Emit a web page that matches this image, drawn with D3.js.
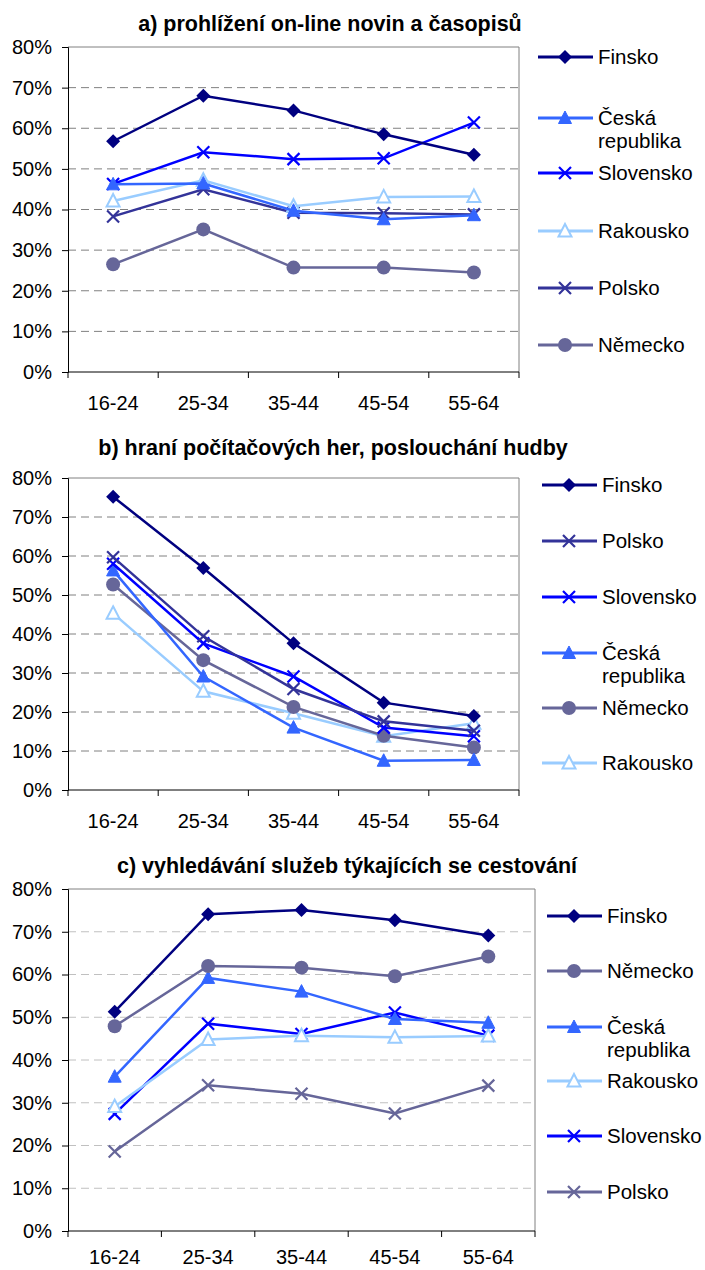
<!DOCTYPE html>
<html lang="cs">
<head>
<meta charset="UTF-8" />
<title>Aktivity na internetu podle věku</title>
<script src="https://cdn.jsdelivr.net/npm/d3@7/dist/d3.min.js"></script>
<style>
  body { margin: 0; background: #fff; }
  svg text { font-family: "Liberation Sans", Arial, sans-serif; fill: #000; }
  .title { font-weight: bold; font-size: 21.5px; }
  .tick text { font-size: 20px; }
  .legend text { font-size: 20.5px; }
  .series { fill: none; stroke-width: 2.5px; }
</style>
</head>
<body>
<script>
// age groups on the x axis, y ticks in percent
var ageGroups = ["16-24", "25-34", "35-44", "45-54", "55-64"];
var yTicks = [0, 10, 20, 30, 40, 50, 60, 70, 80];

var titleA = "a) prohlížení on-line novin a časopisů";
var titleB = "b) hraní počítačových her, poslouchání hudby";
var titleC = "c) vyhledávání služeb týkajících se cestování";

// a) values in %
var finskoA    = [56.8, 68.0, 64.4, 58.5, 53.5];
var ceskaA     = [46.2, 46.4, 39.7, 37.6, 38.6];
var slovenskoA = [46.3, 54.1, 52.4, 52.6, 61.4];
var rakouskoA  = [42.1, 47.2, 40.8, 43.1, 43.2];
var polskoA    = [38.3, 45.0, 39.2, 39.1, 38.8];
var nemeckoA   = [26.5, 35.1, 25.7, 25.7, 24.5];

// b)
var finskoB    = [75.2, 56.9, 37.6, 22.4, 19.0];
var polskoB    = [59.7, 39.4, 25.9, 17.6, 15.2];
var slovenskoB = [58.0, 37.6, 29.1, 16.0, 13.8];
var ceskaB     = [56.3, 29.1, 16.0, 7.5, 7.7];
var nemeckoB   = [52.7, 33.3, 21.3, 13.9, 10.9];
var rakouskoB  = [45.3, 25.3, 19.7, 13.8, 17.1];

// c)
var finskoC    = [51.3, 74.1, 75.1, 72.7, 69.1];
var nemeckoC   = [47.9, 62.0, 61.6, 59.6, 64.2];
var ceskaC     = [36.1, 59.2, 56.0, 49.6, 48.7];
var rakouskoC  = [29.1, 44.8, 45.7, 45.3, 45.6];
var slovenskoC = [27.4, 48.5, 46.1, 51.1, 45.7];
var polskoC    = [18.6, 34.1, 32.1, 27.5, 34.0];

// legend order of each panel
var legendA = ["Finsko", "Česká republika", "Slovensko", "Rakousko", "Polsko", "Německo"];
var legendB = ["Finsko", "Polsko", "Slovensko", "Česká republika", "Německo", "Rakousko"];
var legendC = ["Finsko", "Německo", "Česká republika", "Rakousko", "Slovensko", "Polsko"];

var styleOf = {
  "Finsko":          {color: "#000080", marker: "diamond"},
  "Česká republika": {color: "#3366ff", marker: "triangle"},
  "Slovensko":       {color: "#0000ff", marker: "cross"},
  "Rakousko":        {color: "#99ccff", marker: "triangleOpen"},
  "Polsko":          {color: "#333399", marker: "cross"},
  "Německo":         {color: "#666699", marker: "circle"}
};

var panels = [
  {title: titleA, titleX: 330, titleY: 31, left: 68, right: 519, top: 47, bottom: 372, labelY: 410,
   grid: "#808080", legend: legendA, legendX: 538, legendRows: [57, 118, 173, 231, 288, 345],
   values: {"Finsko": finskoA, "Česká republika": ceskaA, "Slovensko": slovenskoA,
            "Rakousko": rakouskoA, "Polsko": polskoA, "Německo": nemeckoA}},
  {title: titleB, titleX: 333, titleY: 455, left: 68, right: 519, top: 478, bottom: 790, labelY: 828,
   grid: "#808080", legend: legendB, legendX: 542, legendRows: [485, 541, 597, 653, 708, 763],
   values: {"Finsko": finskoB, "Polsko": polskoB, "Slovensko": slovenskoB,
            "Česká republika": ceskaB, "Německo": nemeckoB, "Rakousko": rakouskoB}},
  {title: titleC, titleX: 347, titleY: 873, left: 68, right: 535, top: 889, bottom: 1231, labelY: 1264,
   grid: "#c0c0c0", legend: legendC, legendX: 547, legendRows: [916, 971, 1027, 1081, 1136, 1192],
   polsko: "#666699",
   values: {"Finsko": finskoC, "Německo": nemeckoC, "Česká republika": ceskaC,
            "Rakousko": rakouskoC, "Slovensko": slovenskoC, "Polsko": polskoC}}
];

var svg = d3.select("body").append("svg")
  .attr("width", 705)
  .attr("height", 1270);

function drawMarker(g, type, color, x, y) {
  if (type == "diamond") {
    g.append("path")
     .attr("d", "M" + x + "," + (y - 7) + "L" + (x + 7) + "," + y + "L" + x + "," + (y + 7) + "L" + (x - 7) + "," + y + "Z")
     .attr("fill", color);
  } else if (type == "triangle" || type == "triangleOpen") {
    g.append("path")
     .attr("d", "M" + x + "," + (y - 7) + "L" + (x + 6.5) + "," + (y + 5.5) + "L" + (x - 6.5) + "," + (y + 5.5) + "Z")
     .attr("fill", type == "triangle" ? color : "#fff")
     .attr("stroke", color)
     .attr("stroke-width", type == "triangle" ? 1 : 2);
  } else if (type == "circle") {
    g.append("circle")
     .attr("cx", x).attr("cy", y).attr("r", 7)
     .attr("fill", color);
  } else {
    g.append("path")
     .attr("d", "M" + (x - 6) + "," + (y - 6) + "L" + (x + 6) + "," + (y + 6) + "M" + (x + 6) + "," + (y - 6) + "L" + (x - 6) + "," + (y + 6))
     .attr("stroke", color)
     .attr("stroke-width", 2.2)
     .attr("fill", "none");
  }
}

panels.forEach(function(p) {
  var g = svg.append("g");

  var xScale = d3.scaleBand()
                 .domain(ageGroups)
                 .range([p.left, p.right]);
  var yScale = d3.scaleLinear()
                 .domain([0, 80])
                 .range([p.bottom, p.top]);

  function colorOf(name) {
    if (name == "Polsko" && p.polsko) return p.polsko;
    return styleOf[name].color;
  }

  // title
  g.append("text")
   .attr("class", "title")
   .attr("x", p.titleX)
   .attr("y", p.titleY)
   .attr("text-anchor", "middle")
   .text(p.title);

  // dashed grid
  g.selectAll(".grid")
   .data(yTicks.filter(function(t) { return t > 0 && t < 80; }))
   .enter().append("line")
   .attr("x1", p.left).attr("x2", p.right)
   .attr("y1", function(d) { return yScale(d); })
   .attr("y2", function(d) { return yScale(d); })
   .attr("stroke", p.grid)
   .attr("stroke-width", 1)
   .attr("stroke-dasharray", "8,5");

  // plot frame, top and right
  g.append("path")
   .attr("d", "M" + p.left + "," + p.top + "H" + p.right + "V" + p.bottom)
   .attr("fill", "none")
   .attr("stroke", "#808080")
   .attr("stroke-width", 1);

  // y axis
  var yAxis = d3.axisLeft(yScale)
                .tickValues(yTicks)
                .tickSize(6)
                .tickPadding(10)
                .tickFormat(function(d) { return d + "%"; });
  var yG = g.append("g")
            .attr("transform", "translate(" + p.left + ",0)")
            .call(yAxis);
  yG.select(".domain").attr("stroke", "#000");
  yG.selectAll(".tick line").attr("stroke", "#000");
  yG.selectAll(".tick text").attr("fill", "#000");
  yG.attr("font-family", null).attr("font-size", null);

  // x axis: ticks between the categories
  var xG = g.append("g")
            .attr("transform", "translate(0," + p.bottom + ")");
  xG.append("line")
    .attr("x1", p.left).attr("x2", p.right)
    .attr("stroke", "#000");
  var bounds = ageGroups.map(function(a) { return xScale(a); }).concat([p.right]);
  xG.selectAll(".xtick")
    .data(bounds)
    .enter().append("line")
    .attr("x1", function(d) { return d; })
    .attr("x2", function(d) { return d; })
    .attr("y1", 0).attr("y2", 6)
    .attr("stroke", "#000");
  g.selectAll(".xlabel")
   .data(ageGroups)
   .enter().append("text")
   .attr("x", function(d) { return xScale(d) + xScale.bandwidth() / 2; })
   .attr("y", p.labelY)
   .attr("text-anchor", "middle")
   .style("font-size", "20px")
   .text(function(d) { return d; });

  // series, drawn back to front
  var line = d3.line()
               .x(function(d, i) { return xScale(ageGroups[i]) + xScale.bandwidth() / 2; })
               .y(function(d) { return yScale(d); });

  p.legend.slice().reverse().forEach(function(name) {
    var vals = p.values[name];
    var c = colorOf(name);
    g.append("path")
     .datum(vals)
     .attr("class", "series")
     .attr("stroke", c)
     .attr("d", line);
    vals.forEach(function(v, i) {
      drawMarker(g, styleOf[name].marker, c,
                 xScale(ageGroups[i]) + xScale.bandwidth() / 2, yScale(v));
    });
  });

  // legend
  var lg = g.append("g").attr("class", "legend");
  p.legend.forEach(function(name, i) {
    var y = p.legendRows[i];
    var c = colorOf(name);
    lg.append("line")
      .attr("x1", p.legendX).attr("x2", p.legendX + 55)
      .attr("y1", y).attr("y2", y)
      .attr("stroke", c)
      .attr("stroke-width", 3);
    drawMarker(lg, styleOf[name].marker, c, p.legendX + 27, y);
    var words = name == "Česká republika" ? ["Česká", "republika"] : [name];
    words.forEach(function(w, j) {
      lg.append("text")
        .attr("x", p.legendX + 60)
        .attr("y", y + j * 23)
        .attr("dy", "0.35em")
        .text(w);
    });
  });
});
</script>
</body>
</html>
